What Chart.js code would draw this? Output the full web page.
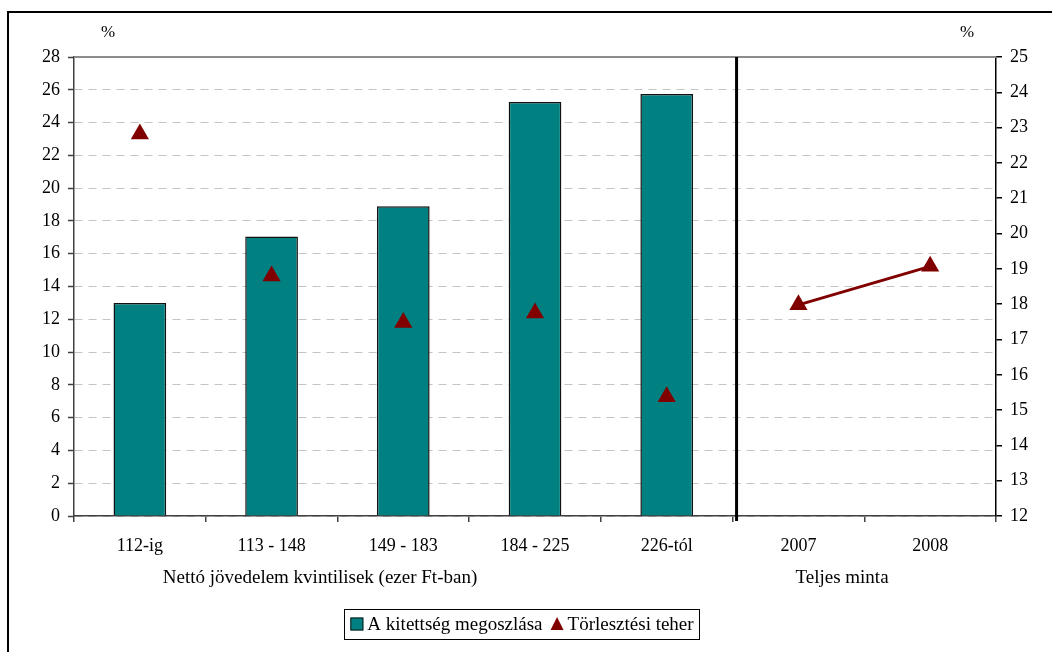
<!DOCTYPE html>
<html>
<head>
<meta charset="utf-8">
<script src="https://cdn.jsdelivr.net/npm/chart.js@4"></script>
<style>
  html, body { margin: 0; padding: 0; background: #fff; }
  #wrap { width: 1052px; height: 652px; }
</style>
</head>
<body>
<div id="wrap"><canvas id="chart" width="1052" height="652"></canvas></div>
<script>
var CATEGORIES = ['112-ig', '113 - 148', '149 - 183', '184 - 225', '226-tól', '2007', '2008'];
var KITETTSEG = [13.0, 17.05, 18.9, 25.25, 25.75, null, null];
var TORLESZTES = [22.82, 18.8, 17.48, 17.75, 15.38, 17.98, 19.07];
var LEFT_AXIS = { min: 0, max: 28, step: 2 };
var RIGHT_AXIS = { min: 12, max: 25, step: 1 };
var SPLIT_AFTER = 4; // last income quintile; the full-sample years follow

var FONT = 'Liberation Serif';
var TEAL = '#008080';
var DARK_RED = '#800000';

var decorations = {
    id: 'decorations',
    beforeDraw: function (chart) {
        var ctx = chart.ctx;
        ctx.save();
        ctx.strokeStyle = '#000';
        ctx.lineWidth = 2;
        ctx.beginPath();
        ctx.moveTo(8, chart.height);
        ctx.lineTo(8, 12);
        ctx.lineTo(chart.width, 12);
        ctx.stroke();
        ctx.restore();
    },
    beforeDatasetsDraw: function (chart) {
        var ctx = chart.ctx, area = chart.chartArea, x = chart.scales.x;
        ctx.save();
        // solid top edge of the plot
        ctx.strokeStyle = '#8c8c8c';
        ctx.lineWidth = 2;
        ctx.beginPath();
        ctx.moveTo(area.left, area.top);
        ctx.lineTo(area.right, area.top);
        ctx.stroke();
        // separator between quintiles and full sample
        var sx = (x.getPixelForValue(SPLIT_AFTER) + x.getPixelForValue(SPLIT_AFTER + 1)) / 2 + 4;
        ctx.strokeStyle = '#000';
        ctx.lineWidth = 3;
        ctx.beginPath();
        ctx.moveTo(sx, area.top);
        ctx.lineTo(sx, area.bottom + 5);
        ctx.stroke();
        ctx.restore();
    },
    afterDraw: function (chart) {
        var ctx = chart.ctx;
        ctx.save();
        ctx.fillStyle = '#000';
        ctx.font = '17px "' + FONT + '"';
        ctx.textAlign = 'center';
        ctx.textBaseline = 'middle';
        ctx.fillText('%', 108, 33);
        ctx.fillText('%', 967, 33);
        ctx.font = '19px "' + FONT + '"';
        ctx.fillText('Nettó jövedelem kvintilisek (ezer Ft-ban)', 320, 578);
        ctx.fillText('Teljes minta', 842, 578);

        // legend box
        ctx.font = '19px "' + FONT + '"';
        var ds = chart.data.datasets;
        var w1 = ctx.measureText(ds[0].label).width;
        var w2 = ctx.measureText(ds[1].label).width;
        var boxW = 6 + 13 + 4 + w1 + 8 + 13 + 4 + w2 + 6;
        var bx = 522 - boxW / 2, by = 609, bh = 30;
        ctx.strokeStyle = '#000';
        ctx.lineWidth = 1;
        ctx.strokeRect(Math.round(bx) + 0.5, by + 0.5, Math.round(boxW), bh);
        var cx = bx + 6, cy = by + bh / 2;
        ctx.fillStyle = ds[0].backgroundColor;
        ctx.fillRect(cx, cy - 6.5, 13, 13);
        ctx.strokeStyle = '#1a1a1a';
        ctx.strokeRect(cx + 0.5, cy - 6, 12, 12);
        ctx.fillStyle = '#000';
        ctx.textAlign = 'left';
        ctx.fillText(ds[0].label, cx + 17, cy + 1);
        cx += 17 + w1 + 8;
        ctx.fillStyle = DARK_RED;
        ctx.beginPath();
        ctx.moveTo(cx + 6.5, cy - 7);
        ctx.lineTo(cx + 13, cy + 6);
        ctx.lineTo(cx, cy + 6);
        ctx.closePath();
        ctx.fill();
        ctx.fillStyle = '#000';
        ctx.fillText(ds[1].label, cx + 17, cy + 1);
        ctx.restore();
    }
};

new Chart(document.getElementById('chart'), {
    data: {
        labels: CATEGORIES,
        datasets: [
            {
                type: 'bar',
                label: 'A kitettség megoszlása',
                data: KITETTSEG,
                yAxisID: 'y',
                backgroundColor: TEAL,
                borderColor: '#111',
                borderWidth: 1.5,
                barPercentage: 0.4,
                categoryPercentage: 1.0,
                order: 2
            },
            {
                type: 'line',
                label: 'Törlesztési teher',
                data: TORLESZTES,
                yAxisID: 'y2',
                borderColor: DARK_RED,
                backgroundColor: DARK_RED,
                borderWidth: 3,
                pointStyle: 'triangle',
                pointRadius: 10.5,
                pointBorderWidth: 0,
                pointBackgroundColor: DARK_RED,
                segment: {
                    borderColor: function (c) { return c.p0DataIndex > SPLIT_AFTER ? DARK_RED : 'transparent'; }
                },
                order: 1
            }
        ]
    },
    options: {
        responsive: false,
        animation: false,
        layout: { padding: { top: 57, left: 0, right: 0, bottom: 0 } },
        plugins: { legend: { display: false }, tooltip: { enabled: false } },
        scales: {
            x: {
                type: 'category',
                offset: true,
                afterFit: function (s) { s.height = 136; },
                grid: { offset: true, drawOnChartArea: false, color: '#404040', tickLength: 6, lineWidth: 1.5 },
                border: { color: '#404040', width: 1.5 },
                ticks: { color: '#000', padding: 13, autoSkip: false, maxRotation: 0, font: { family: FONT, size: 18 } }
            },
            y: {
                position: 'left',
                min: LEFT_AXIS.min,
                max: LEFT_AXIS.max,
                afterFit: function (s) { s.width = 74; },
                grid: { color: '#c4c4c4', lineWidth: 1, tickColor: '#404040', tickWidth: 1.5, tickLength: 6 },
                border: { color: '#404040', width: 1.5, dash: [8, 6] },
                ticks: { stepSize: LEFT_AXIS.step, color: '#000', padding: 8, font: { family: FONT, size: 18 } }
            },
            y2: {
                position: 'right',
                min: RIGHT_AXIS.min,
                max: RIGHT_AXIS.max,
                afterFit: function (s) { s.width = 56; },
                grid: { drawOnChartArea: false, color: '#000', lineWidth: 1.5, tickLength: 6 },
                border: { color: '#000', width: 1.5 },
                ticks: { stepSize: RIGHT_AXIS.step, color: '#000', padding: 8, font: { family: FONT, size: 18 } }
            }
        }
    },
    plugins: [decorations]
});
</script>
</body>
</html>
